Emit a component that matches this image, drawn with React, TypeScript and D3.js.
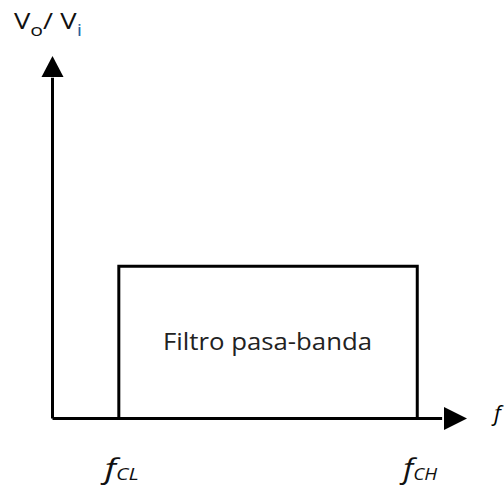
import React, { useRef, useEffect } from 'react'
import * as d3 from 'd3'

// normalized frequency axis (0..100) and gain axis (0..100)
const cutoffNames = ['CL', 'CH']
const cutoffFreqs = [16, 88]
const passGain = [42]
const filterLabel = ['Filtro pasa-banda']
const yAxisLabel = ['V', 'o', '/ V', 'i']
const xAxisLabel = ['f']

const App = () => {
    const element = useRef<HTMLDivElement>(null)

    useEffect(() => {
        const width = 504
        const height = 493
        const font = "'Open Sans', 'Liberation Sans', sans-serif"

        const root = d3.select(element.current)
            .append('svg')
            .attr('width', width)
            .attr('height', height)
            .style('position', 'absolute')
            .style('left', '0px')
            .style('top', '0px')

        const x = d3.scaleLinear().domain([0, 100]).range([52.5, 467])
        const y = d3.scaleLinear().domain([0, 100]).range([418.5, 56])

        // passband rectangle
        root.append('rect')
            .attr('x', x(cutoffFreqs[0]))
            .attr('y', y(passGain[0]))
            .attr('width', x(cutoffFreqs[1]) - x(cutoffFreqs[0]))
            .attr('height', y(0) - y(passGain[0]))
            .attr('fill', 'none')
            .attr('stroke', '#000')
            .attr('stroke-width', 3)

        // axes
        root.append('line')
            .attr('x1', x(0)).attr('y1', y(0))
            .attr('x2', x(0)).attr('y2', y(94))
            .attr('stroke', '#000').attr('stroke-width', 3)
        root.append('line')
            .attr('x1', x(0)).attr('y1', y(0))
            .attr('x2', x(94)).attr('y2', y(0))
            .attr('stroke', '#000').attr('stroke-width', 3)

        // arrow heads
        const ax = x(0), ay = y(100)
        root.append('path')
            .attr('d', `M${ax},${ay} L${ax - 11},${ay + 21} L${ax + 11},${ay + 21} Z`)
            .attr('fill', '#000')
        const bx = x(100), by = y(0)
        root.append('path')
            .attr('d', `M${bx},${by} L${bx - 23},${by - 11.5} L${bx - 23},${by + 11.5} Z`)
            .attr('fill', '#000')

        // filter label
        root.append('text')
            .attr('x', 163)
            .attr('y', 350)
            .attr('textLength', 209)
            .attr('lengthAdjust', 'spacingAndGlyphs')
            .style('font-family', font)
            .style('font-size', '23px')
            .style('fill', '#222')
            .text(filterLabel[0])

        // y axis label Vo / Vi
        const vl = root.append('text')
            .attr('x', 14)
            .attr('y', 29)
            .attr('textLength', 68)
            .attr('lengthAdjust', 'spacingAndGlyphs')
            .style('font-family', font)
            .style('font-size', '22px')
            .style('fill', '#111')
        yAxisLabel.forEach((t, i) => {
            vl.append('tspan')
                .attr('dy', i === 0 ? 0 : (i % 2 === 1 ? 7 : -7))
                .style('font-size', i % 2 === 1 ? '17px' : '22px')
                .style('fill', i === 3 ? '#2a5f9e' : '#111')
                .text(t)
        })

        // x axis label f
        root.append('text')
            .attr('x', 494)
            .attr('y', 421)
            .style('font-family', font)
            .style('font-size', '22px')
            .style('font-style', 'italic')
            .text(xAxisLabel[0])

        // cutoff frequency labels
        cutoffFreqs.forEach((f, i) => {
            const t = root.append('text')
                .attr('x', x(f) - 14)
                .attr('y', 478)
                .attr('textLength', 34)
                .attr('lengthAdjust', 'spacingAndGlyphs')
                .style('font-family', font)
                .style('font-style', 'italic')
                .style('fill', '#111')
            t.append('tspan').style('font-size', '27px').text('f')
            t.append('tspan').attr('dy', 2).style('font-size', '16px').text(cutoffNames[i])
        })

        return () => {
            if (element.current) element.current.innerHTML = ''
        }
    }, [])

    return <div ref={element}></div>
}

export default App
